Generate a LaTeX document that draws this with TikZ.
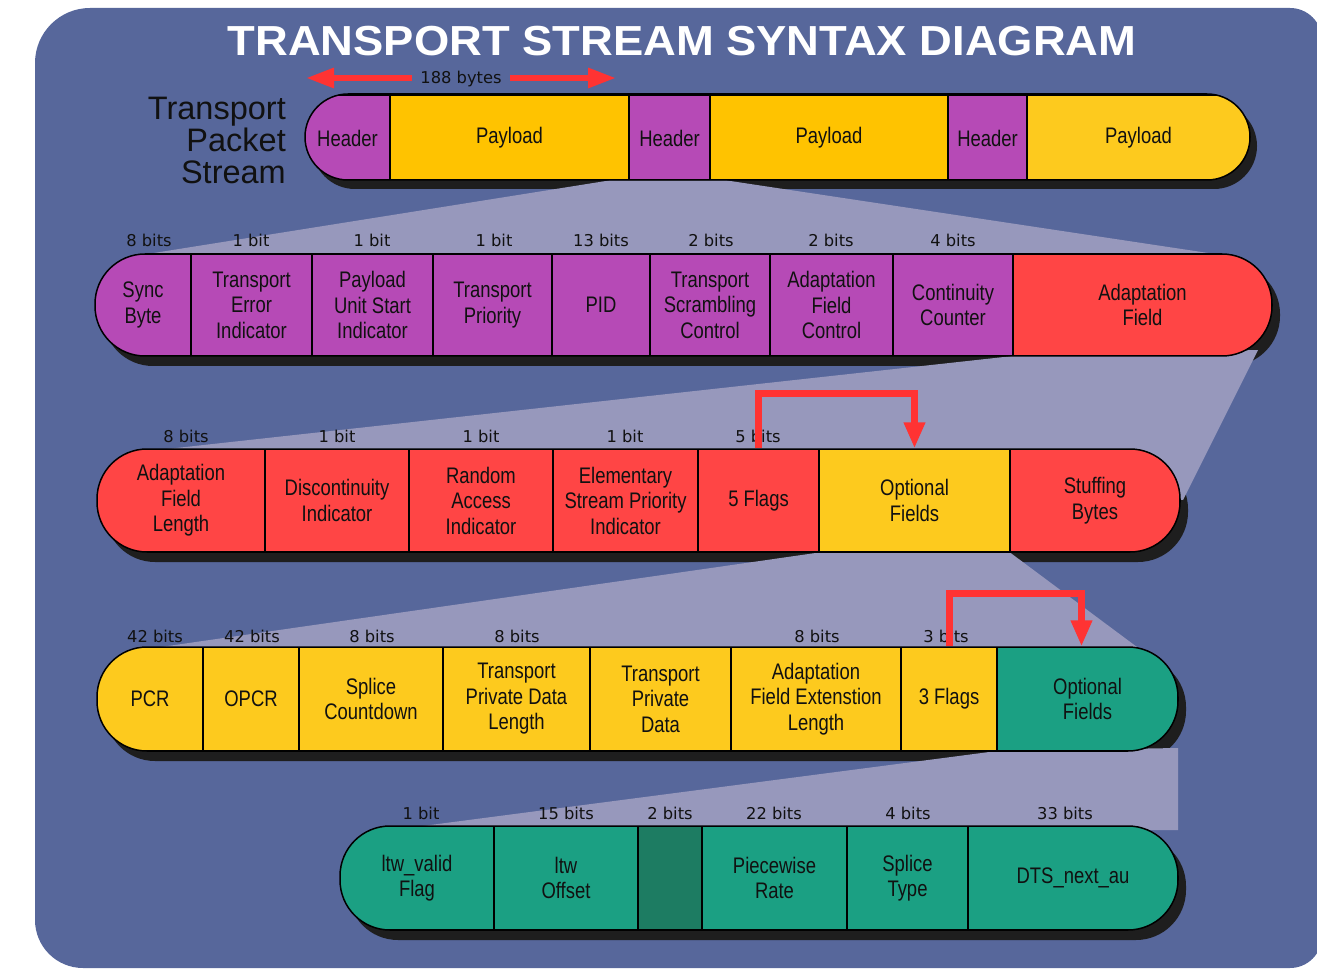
\documentclass[tikz,border=0pt]{standalone}
\usepackage{fontspec}
\setmainfont{Liberation Sans}
\newfontfamily\cond{Liberation Sans}[FakeStretch=0.82]
\newfontfamily\bitsf{DejaVu Sans}
\newfontfamily\titlef{Liberation Sans}[FakeStretch=1.08]
\usetikzlibrary{arrows.meta}
\definecolor{bgc}{HTML}{57679B}
\definecolor{funnelc}{HTML}{9798BC}
\definecolor{purp}{HTML}{B64AB6}
\definecolor{payy}{HTML}{FFC300}
\definecolor{yel}{HTML}{FDCA1E}
\definecolor{redc}{HTML}{FF4545}
\definecolor{teal}{HTML}{1BA083}
\definecolor{dteal}{HTML}{1D7C62}
\definecolor{shadowc}{HTML}{1E1E1E}
\definecolor{arrowred}{HTML}{FF3333}
\definecolor{txt}{HTML}{111111}
\tikzset{
  cell/.style={draw=black, line width=1.2pt, inner sep=0pt, align=center,
    font=\cond\fontsize{22.5}{25.5}\selectfont, text=txt},
  outline/.style={draw=black, line width=1.5pt},
  bitlbl/.style={font=\bitsf\fontsize{16.3}{18}\selectfont, text=txt, inner sep=0pt, anchor=base},
  bracket/.style={draw=arrowred, line width=7pt, line join=miter,
    -{Triangle[width=20pt,length=26pt]}},
  bigarrow/.style={draw=arrowred, line width=6pt, -{Triangle[width=19pt,length=28pt]}},
}
\newcommand\fld[5]{%
  \node[cell,fill=#4,minimum width={#3-#2},minimum height=\rowh] (#1) at ({(#2+#3)/2},\rowc) {#5};}
\begin{document}
\begin{tikzpicture}[x=1pt,y=-1pt]
\useasboundingbox (0,0) rectangle (1317,973);
\clip (0,0) rectangle (1317,973);
% background
\fill[bgc] (35,500) [rounded corners=55pt] -- (35,8) [rounded corners=32pt] -- (1322,8) -- (1322,968) [rounded corners=48pt] -- (35,968) -- cycle;

% title
\node[font=\titlef\bfseries\fontsize{42}{48}\selectfont, text=white, anchor=base, inner sep=0pt] (title) at (682,56) {TRANSPORT STREAM SYNTAX DIAGRAM};

% shadows
\fill[shadowc, rounded corners=43pt] (312,103) rectangle (1257,189);
\fill[shadowc, rounded corners=50pt] (103,264) rectangle (1280,366);
\fill[shadowc, rounded corners=50pt] (105,459) rectangle (1188,562);
\fill[shadowc, rounded corners=50pt] (105,657) rectangle (1186,761);
\fill[shadowc, rounded corners=50pt] (348,836) rectangle (1186,940);

% funnels
\fill[funnelc] (609,180.5) -- (727,180.5) -- (1228,256) -- (135,256) -- cycle;
\fill[funnelc] (1013,356) -- (1258,350) -- (1183,500) -- (140,452) -- cycle;
\fill[funnelc] (819,552.5) -- (1010,552.5) -- (1141,650) -- (140,650) -- cycle;
\fill[funnelc] (997,751) -- (1178,748) -- (1178,830) -- (392,830) -- cycle;

% side label
\node[font=\fontsize{32.5}{32}\selectfont, align=right, anchor=east, text=txt, inner sep=0pt] (tps) at (286,140) {Transport\\Packet\\Stream};

% row 1
\def\rowh{86}\def\rowc{138}
\begin{scope}
\clip[rounded corners=43pt] (305,94) rectangle (1250,180);
\fld{h1}{305}{390}{purp}{Header}
\fld{p1}{390}{629}{payy}{Payload}
\fld{h2}{629}{710}{purp}{Header}
\fld{p2}{710}{948}{payy}{Payload}
\fld{h3}{948}{1027}{purp}{Header}
\fld{p3}{1027}{1250}{yel}{Payload}
\end{scope}
\draw[outline, rounded corners=43pt] (305,94) rectangle (1250,180);

% 188 bytes
\coordinate (bl) at (306,78);
\coordinate (br) at (616,78);
\node[bitlbl] (bytes) at (461,84) {188 bytes};
\draw[bigarrow] ([xshift=-8pt]bytes.west |- bl) -- (bl);
\draw[bigarrow] ([xshift=8pt]bytes.east |- br) -- (br);

% row 2
\def\rowh{102}\def\rowc{305}
\begin{scope}
\clip[rounded corners=50pt] (95,254) rectangle (1272,356);
\fld{sync}{95}{191}{purp}{Sync\\Byte}
\fld{tei}{191}{312}{purp}{Transport\\Error\\Indicator}
\fld{pusi}{312}{433}{purp}{Payload\\Unit Start\\Indicator}
\fld{tp}{433}{552}{purp}{Transport\\Priority}
\fld{pid}{552}{650}{purp}{PID}
\fld{tsc}{650}{770}{purp}{Transport\\Scrambling\\Control}
\fld{afc}{770}{893}{purp}{Adaptation\\Field\\Control}
\fld{cc}{893}{1013}{purp}{Continuity\\Counter}
\fld{af}{1013}{1272}{redc}{Adaptation\\Field}
\end{scope}
\draw[outline, rounded corners=50pt] (95,254) rectangle (1272,356);
\node[bitlbl] (b21) at (149,247) {8 bits};
\node[bitlbl] (b22) at (251,247) {1 bit};
\node[bitlbl] (b23) at (372,247) {1 bit};
\node[bitlbl] (b24) at (494,247) {1 bit};
\node[bitlbl] (b25) at (601,247) {13 bits};
\node[bitlbl] (b26) at (711,247) {2 bits};
\node[bitlbl] (b27) at (831,247) {2 bits};
\node[bitlbl] (b28) at (953,247) {4 bits};

% row 3
\def\rowh{103}\def\rowc{500.5}
\begin{scope}
\clip[rounded corners=50pt] (97,449) rectangle (1180,552);
\fld{afl}{97}{265}{redc}{Adaptation\\Field\\Length}
\fld{di}{265}{409}{redc}{Discontinuity\\Indicator}
\fld{rai}{409}{553}{redc}{Random\\Access\\Indicator}
\fld{espi}{553}{698}{redc}{Elementary\\Stream Priority\\Indicator}
\fld{flags5}{698}{819}{redc}{5 Flags}
\fld{opt1}{819}{1010}{yel}{Optional\\Fields}
\fld{stuff}{1010}{1180}{redc}{Stuffing\\Bytes}
\end{scope}
\draw[outline, rounded corners=50pt] (97,449) rectangle (1180,552);
\node[bitlbl] (b31) at (186,442) {8 bits};
\node[bitlbl] (b32) at (337,442) {1 bit};
\node[bitlbl] (b33) at (481,442) {1 bit};
\node[bitlbl] (b34) at (625,442) {1 bit};
\node[bitlbl] (b35) at (758,442) {5 bits};
\draw[bracket] (flags5.north) -- ++(0,-55) -| (opt1.north);

% row 4
\def\rowh{104}\def\rowc{699}
\begin{scope}
\clip[rounded corners=50pt] (97,647) rectangle (1178,751);
\fld{pcr}{97}{203}{yel}{PCR}
\fld{opcr}{203}{299}{yel}{OPCR}
\fld{sc}{299}{443}{yel}{Splice\\Countdown}
\fld{tpdl}{443}{590}{yel}{Transport\\Private Data\\Length}
\fld{tpd}{590}{731}{yel}{Transport\\Private\\Data}
\fld{afel}{731}{901}{yel}{Adaptation\\Field Extenstion\\Length}
\fld{flags3}{901}{997}{yel}{3 Flags}
\fld{opt2}{997}{1178}{teal}{Optional\\Fields}
\end{scope}
\draw[outline, rounded corners=50pt] (97,647) rectangle (1178,751);
\node[bitlbl] (b41) at (155,642) {42 bits};
\node[bitlbl] (b42) at (252,642) {42 bits};
\node[bitlbl] (b43) at (372,642) {8 bits};
\node[bitlbl] (b44) at (517,642) {8 bits};
\node[bitlbl] (b45) at (817,642) {8 bits};
\node[bitlbl] (b46) at (946,642) {3 bits};
\draw[bracket] (flags3.north) -- ++(0,-53) -| ([xshift=-6pt]opt2.north);

% row 5
\def\rowh{104}\def\rowc{878}
\begin{scope}
\clip[rounded corners=50pt] (340,826) rectangle (1178,930);
\fld{ltwv}{340}{494}{teal}{ltw\_valid\\Flag}
\fld{ltwo}{494}{638}{teal}{ltw\\Offset}
\fld{res}{638}{702}{dteal}{}
\fld{pwr}{702}{847}{teal}{Piecewise\\Rate}
\fld{st}{847}{968}{teal}{Splice\\Type}
\fld{dts}{968}{1178}{teal}{DTS\_next\_au}
\end{scope}
\draw[outline, rounded corners=50pt] (340,826) rectangle (1178,930);
\node[bitlbl] (b51) at (421,819) {1 bit};
\node[bitlbl] (b52) at (566,819) {15 bits};
\node[bitlbl] (b53) at (670,819) {2 bits};
\node[bitlbl] (b54) at (774,819) {22 bits};
\node[bitlbl] (b55) at (908,819) {4 bits};
\node[bitlbl] (b56) at (1065,819) {33 bits};
\end{tikzpicture}
\end{document}
